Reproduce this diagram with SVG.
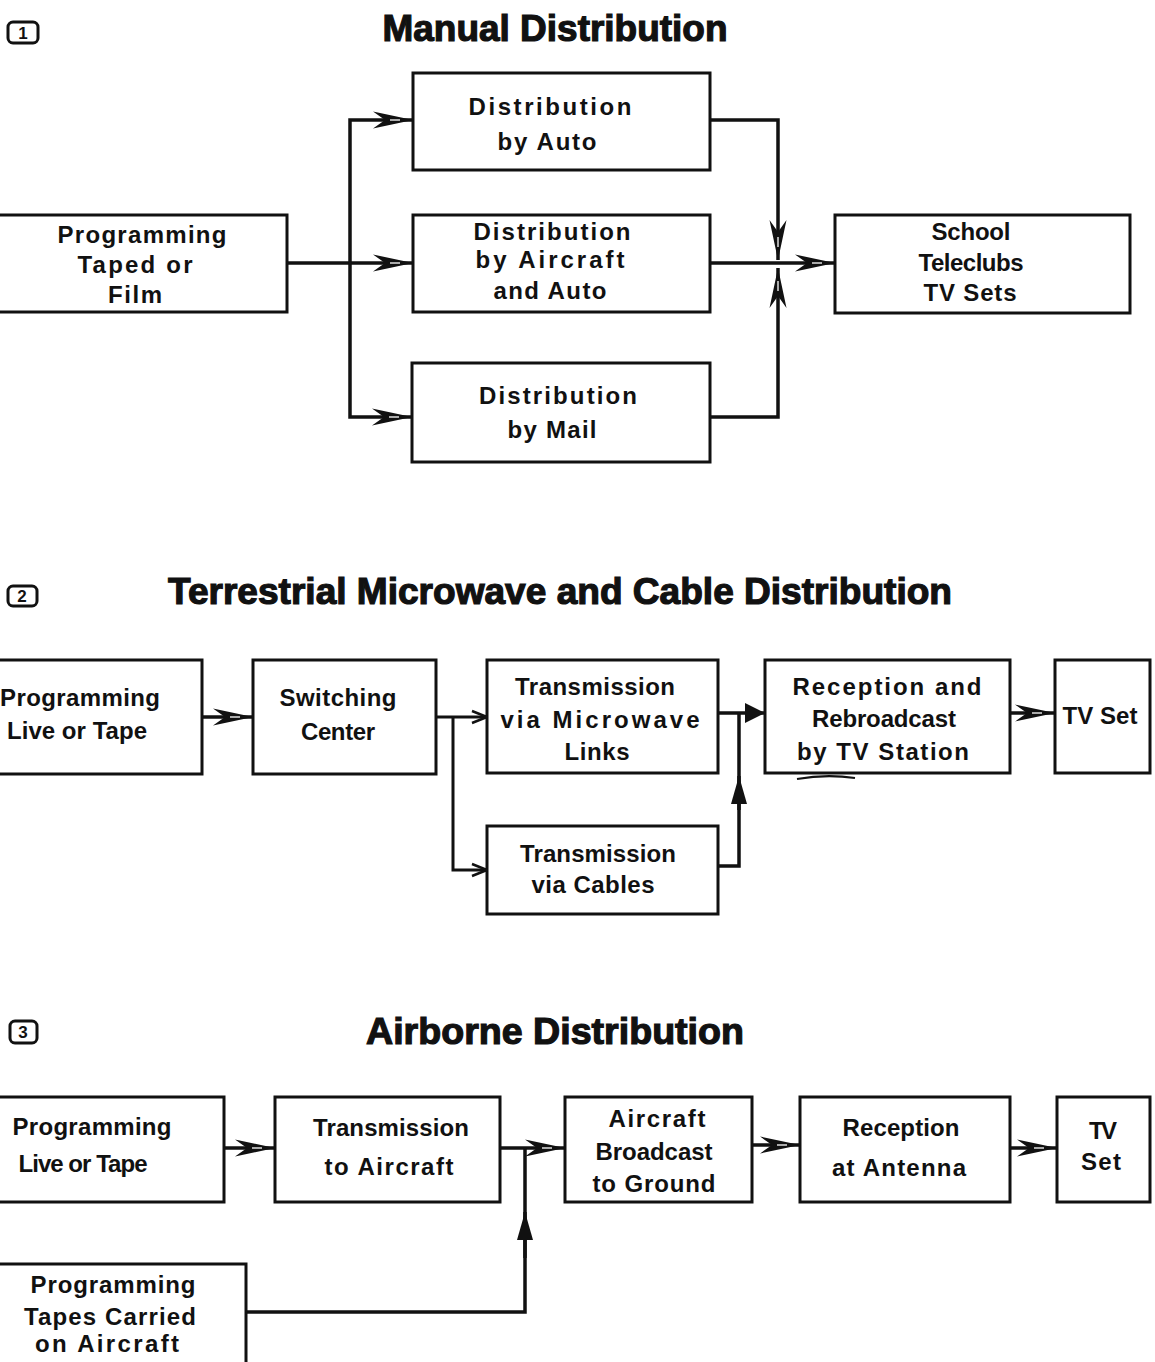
<svg xmlns="http://www.w3.org/2000/svg" width="1155" height="1362" viewBox="0 0 1155 1362">
<defs>
<style>
.box{fill:none;stroke:#111;stroke-width:3}
.t{font-family:"Liberation Sans","DejaVu Sans",sans-serif;font-weight:bold;font-size:24px;fill:#111;text-anchor:middle}
.title{font-family:"Liberation Sans","DejaVu Sans",sans-serif;font-weight:bold;font-size:37px;fill:#111;stroke:#111;stroke-width:1.2;text-anchor:middle}
.num{font-family:"Liberation Sans","DejaVu Sans",sans-serif;font-weight:bold;font-size:17px;fill:#111;text-anchor:middle}
.nb{fill:none;stroke:#111;stroke-width:3}
.ln{fill:none;stroke:#111;stroke-width:3.5}
</style>
<marker id="dbl" viewBox="-1 -10 43 20" refX="40" refY="0" markerWidth="43" markerHeight="20" markerUnits="userSpaceOnUse" orient="auto">
<path d="M0,-8.5 L40,0 L0,8.5 L12,0 Z" fill="#111"/>
<path d="M17,0 L27,0" stroke="#fff" stroke-width="1.3"/>
</marker>
<marker id="open" viewBox="-1 -8 17 16" refX="15" refY="0" markerWidth="17" markerHeight="16" markerUnits="userSpaceOnUse" orient="auto">
<path d="M0,-6 L15,0 L0,6" fill="none" stroke="#111" stroke-width="2.5"/>
</marker>
<marker id="solid" viewBox="0 -11 22 22" refX="20" refY="0" markerWidth="22" markerHeight="22" markerUnits="userSpaceOnUse" orient="auto">
<path d="M0,-10 L20,0 L0,10 Z" fill="#111"/>
</marker>
<marker id="narrow" viewBox="0 -9 30 18" refX="28" refY="0" markerWidth="30" markerHeight="18" markerUnits="userSpaceOnUse" orient="auto">
<path d="M0,-8 L28,0 L0,8 Z" fill="#111"/>
</marker>
</defs>
<rect width="1155" height="1362" fill="#fff"/>

<!-- Section 1 -->
<g id="sec1-label"><rect class="nb" x="8" y="22" width="30" height="21" rx="5"/><text class="num" x="23" y="39">1</text></g>
<text class="title" x="555" y="41" textLength="345" lengthAdjust="spacingAndGlyphs">Manual Distribution</text>

<g id="n1-prog">
<rect class="box" x="-2" y="215" width="289" height="97"/>
<text class="t" x="142" y="243" textLength="169">Programming</text>
<text class="t" x="135" y="273" textLength="115">Taped or</text>
<text class="t" x="135" y="303" textLength="54">Film</text>
</g>
<g id="n1-auto">
<rect class="box" x="413" y="73" width="297" height="97"/>
<text class="t" x="550" y="115" textLength="163">Distribution</text>
<text class="t" x="547" y="150" textLength="99">by Auto</text>
</g>
<g id="n1-aircraft">
<rect class="box" x="413" y="215" width="297" height="97"/>
<text class="t" x="552" y="240" textLength="157">Distribution</text>
<text class="t" x="550" y="268" textLength="149">by  Aircraft</text>
<text class="t" x="550" y="299" textLength="113">and Auto</text>
</g>
<g id="n1-mail">
<rect class="box" x="412" y="363" width="298" height="99"/>
<text class="t" x="558" y="404" textLength="158">Distribution</text>
<text class="t" x="552" y="438" textLength="89">by Mail</text>
</g>
<g id="n1-school">
<rect class="box" x="835" y="215" width="295" height="98"/>
<text class="t" x="971" y="240" textLength="79">School</text>
<text class="t" x="971" y="271" textLength="105">Teleclubs</text>
<text class="t" x="970" y="301" textLength="93">TV Sets</text>
</g>

<!-- Section 2 -->
<g id="sec2-label"><rect class="nb" x="8" y="586" width="29" height="20" rx="5"/><text class="num" x="22" y="602">2</text></g>
<text class="title" x="560" y="604" textLength="784" lengthAdjust="spacingAndGlyphs">Terrestrial Microwave and Cable Distribution</text>

<g id="n2-prog">
<rect class="box" x="-2" y="660" width="204" height="114"/>
<text class="t" x="80" y="706" textLength="160">Programming</text>
<text class="t" x="77" y="739" textLength="140">Live or Tape</text>
</g>
<g id="n2-switch">
<rect class="box" x="253" y="660" width="183" height="114"/>
<text class="t" x="338" y="706" textLength="117">Switching</text>
<text class="t" x="338" y="740" textLength="74">Center</text>
</g>
<g id="n2-micro">
<rect class="box" x="487" y="660" width="231" height="113"/>
<text class="t" x="595" y="695" textLength="160">Transmission</text>
<text class="t" x="600" y="728" textLength="199">via   Microwave</text>
<text class="t" x="597" y="760" textLength="65">Links</text>
</g>
<g id="n2-cables">
<rect class="box" x="487" y="826" width="231" height="88"/>
<text class="t" x="598" y="862" textLength="156">Transmission</text>
<text class="t" x="593" y="893" textLength="123">via Cables</text>
</g>
<g id="n2-reception">
<rect class="box" x="765" y="660" width="245" height="113"/>
<text class="t" x="887" y="695" textLength="189">Reception  and</text>
<text class="t" x="884" y="727" textLength="144">Rebroadcast</text>
<text class="t" x="883" y="760" textLength="172">by TV  Station</text>
<path d="M797,779 Q826,774 855,778" fill="none" stroke="#111" stroke-width="2.2"/>
</g>
<g id="n2-tv">
<rect class="box" x="1055" y="660" width="95" height="113"/>
<text class="t" x="1100" y="724" textLength="75">TV Set</text>
</g>

<!-- Section 3 -->
<g id="sec3-label"><rect class="nb" x="10" y="1021" width="27" height="22" rx="5"/><text class="num" x="23" y="1038">3</text></g>
<text class="title" x="555" y="1044" textLength="378" lengthAdjust="spacingAndGlyphs">Airborne Distribution</text>

<g id="n3-prog">
<rect class="box" x="-2" y="1097" width="226" height="105"/>
<text class="t" x="92" y="1135" textLength="159">Programming</text>
<text class="t" x="83" y="1172" textLength="129">Live or Tape</text>
</g>
<g id="n3-trans">
<rect class="box" x="275" y="1097" width="225" height="105"/>
<text class="t" x="391" y="1136" textLength="156">Transmission</text>
<text class="t" x="389" y="1175" textLength="129">to Aircraft</text>
</g>
<g id="n3-aircraft">
<rect class="box" x="565" y="1097" width="187" height="105"/>
<text class="t" x="657" y="1127" textLength="97">Aircraft</text>
<text class="t" x="654" y="1160" textLength="117">Broadcast</text>
<text class="t" x="654" y="1192" textLength="123">to Ground</text>
</g>
<g id="n3-reception">
<rect class="box" x="800" y="1097" width="210" height="105"/>
<text class="t" x="901" y="1136" textLength="117">Reception</text>
<text class="t" x="899" y="1176" textLength="134">at Antenna</text>
</g>
<g id="n3-tv">
<rect class="box" x="1057" y="1097" width="93" height="105"/>
<text class="t" x="1103" y="1139" textLength="28">TV</text>
<text class="t" x="1101" y="1170" textLength="40">Set</text>
</g>
<g id="n3-tapes">
<rect class="box" x="-2" y="1264" width="248" height="110"/>
<text class="t" x="113" y="1293" textLength="165">Programming</text>
<text class="t" x="110" y="1325" textLength="172">Tapes Carried</text>
<text class="t" x="107" y="1352" textLength="144">on Aircraft</text>
</g>

<g id="connectors">
<!-- section 1 -->
<path class="ln" d="M287,263 H413" marker-end="url(#dbl)"/>
<path class="ln" d="M350,263 V120 H413" marker-end="url(#dbl)"/>
<path class="ln" d="M350,263 V417 H412" marker-end="url(#dbl)"/>
<path class="ln" d="M710,120 H778 V260" marker-end="url(#dbl)"/>
<path class="ln" d="M710,417 H778 V268" marker-end="url(#dbl)"/>
<path class="ln" d="M710,263 H835" marker-end="url(#dbl)"/>
<!-- section 2 -->
<path class="ln" d="M202,717 H253" marker-end="url(#dbl)"/>
<path class="ln" style="stroke-width:3" d="M436,717 H487" marker-end="url(#open)"/>
<path class="ln" style="stroke-width:3" d="M453,717 V870 H487" marker-end="url(#open)"/>
<path class="ln" d="M718,713 H765" marker-end="url(#solid)"/>
<path class="ln" d="M718,866 H739 V713"/>
<path class="ln" d="M739,810 V776" marker-end="url(#narrow)"/>
<path class="ln" d="M1010,713 H1055" marker-end="url(#dbl)"/>
<!-- section 3 -->
<path class="ln" d="M224,1148 H275" marker-end="url(#dbl)"/>
<path class="ln" d="M500,1148 H565" marker-end="url(#dbl)"/>
<path class="ln" d="M246,1312 H525 V1148"/>
<path class="ln" d="M525,1258 V1212" marker-end="url(#narrow)"/>
<path class="ln" d="M752,1145 H800" marker-end="url(#dbl)"/>
<path class="ln" d="M1010,1148 H1057" marker-end="url(#dbl)"/>
</g>
</svg>
